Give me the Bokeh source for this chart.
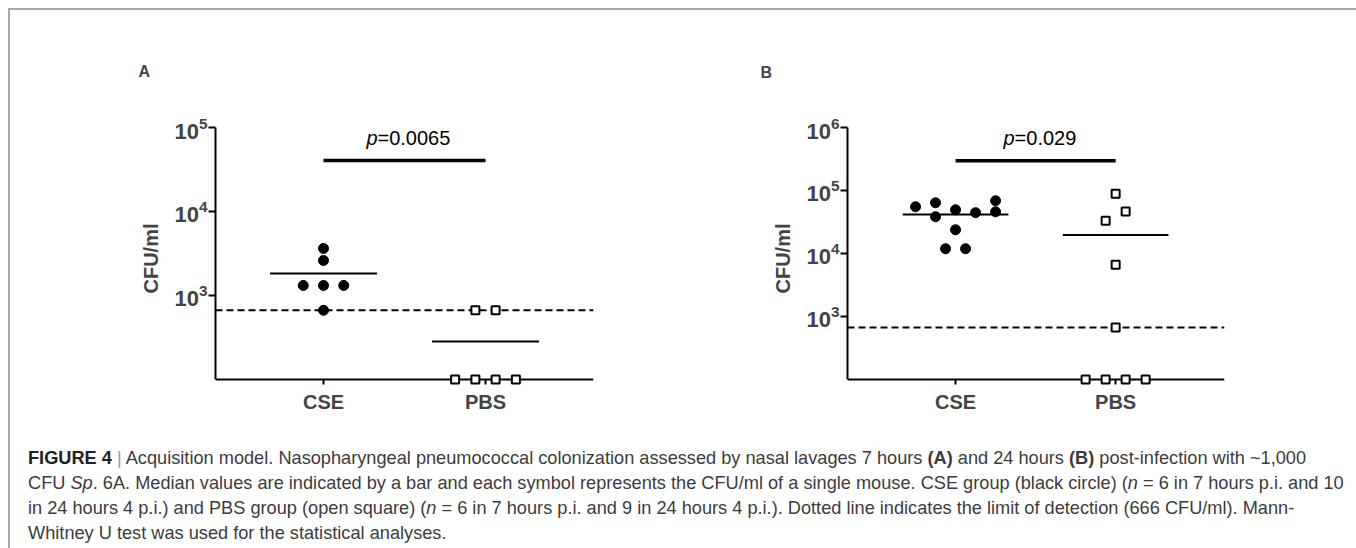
from bokeh.plotting import figure
from bokeh.models import FixedTicker, Span, Div, LinearAxis
from bokeh.layouts import column, row
from bokeh.embed import file_html
from bokeh.resources import INLINE
from bokeh.core.properties import value

categories = ["CSE", "PBS"]
cat_pos = [1, 2]
lod = 666

# Panel A (7 hours p.i.)
a_cse_vals = [3630, 2610, 1315, 1315, 1315, 666]
a_cse_jit = [0.0, 0.0, -0.125, 0.0, 0.125, 0.0]
a_pbs_vals = [666, 666, 100, 100, 100, 100]
a_pbs_jit = [-0.0625, 0.0625, -0.1875, -0.0625, 0.0625, 0.1875]
a_means = [1830, 283]
a_sig_y = 40400
a_p_value = "=0.0065"
a_ticks = [1e3, 1e4, 1e5]

# Panel B (24 hours p.i.)
b_cse_vals = [55200, 63800, 38300, 49400, 23800, 44400, 68700, 45900, 11900, 11900]
b_cse_jit = [-0.25, -0.125, -0.125, 0.0, 0.0, 0.125, 0.25, 0.25, -0.0625, 0.0625]
b_pbs_vals = [88700, 46600, 33100, 6640, 666, 100, 100, 100, 100]
b_pbs_jit = [0.0, 0.0625, -0.0625, 0.0, 0.0, -0.1875, -0.0625, 0.0625, 0.1875]
b_means = [41700, 19600]
b_sig_y = 296000
b_p_value = "=0.029"
b_ticks = [1e3, 1e4, 1e5, 1e6]

FONT = "Liberation Sans"


def make_panel(label, cse_vals, cse_jit, pbs_vals, pbs_jit, means, sig_y, p_value,
               ticks, y_lo, y_hi, x_range, width, mb_left, mb_right, p_off, title_off,
               title_standoff):
    p = figure(width=width, height=419, x_range=x_range, y_range=(y_lo, y_hi),
               y_axis_type="log", output_backend="svg", toolbar_location=None,
               min_border_left=mb_left, min_border_right=mb_right,
               min_border_top=117, min_border_bottom=40, title=label)
    p.outline_line_color = None
    p.grid.visible = False
    p.background_fill_color = "white"
    p.border_fill_color = "white"

    p.title.text_font = FONT
    p.title.text_font_size = "16px"
    p.title.text_font_style = "bold"
    p.title.align = "left"
    p.title.offset = title_off
    p.title.standoff = title_standoff

    ya = p.yaxis[0]
    ya.ticker = FixedTicker(ticks=ticks, minor_ticks=[])
    ya.bounds = (100, y_hi)
    ya.axis_line_width = 2
    ya.major_tick_line_width = 2
    ya.major_tick_out = 7
    ya.major_tick_in = 0
    ya.minor_tick_line_color = None
    ya.major_label_text_font = FONT
    ya.major_label_text_font_size = "22px"
    ya.major_label_text_font_style = "bold"
    ya.major_label_standoff = 1
    ya.axis_label = "CFU/ml"
    ya.axis_label_text_font = FONT
    ya.axis_label_text_font_size = "20px"
    ya.axis_label_text_font_style = "bold"
    ya.axis_label_standoff = 9

    # category labels (axis nearest to the frame, no line / ticks)
    xa = p.xaxis[0]
    xa.ticker = FixedTicker(ticks=cat_pos, minor_ticks=[])
    xa.major_label_overrides = {c: n for c, n in zip(cat_pos, categories)}
    xa.axis_line_color = None
    xa.major_tick_line_color = None
    xa.minor_tick_line_color = None
    xa.major_tick_out = 0
    xa.major_tick_in = 0
    xa.major_label_text_font = FONT
    xa.major_label_text_font_size = "20px"
    xa.major_label_text_font_style = "bold"
    xa.major_label_standoff = 1

    # x axis line and ticks at the 10^2 level (bottom of the data)
    xl = LinearAxis(ticker=FixedTicker(ticks=cat_pos, minor_ticks=[]),
                    fixed_location=100, axis_line_width=2, axis_line_color="black",
                    major_tick_line_width=2, major_tick_out=5, major_tick_in=0,
                    minor_tick_line_color=None, major_label_text_font_size="0px",
                    major_label_text_color=None, major_label_standoff=0)
    p.add_layout(xl, "below")

    p.add_layout(Span(location=lod, dimension="width", line_color="black",
                      line_width=2, line_dash="7 4", level="underlay"))

    # mean bars
    p.segment(x0=[c - 0.33 for c in cat_pos], x1=[c + 0.33 for c in cat_pos],
              y0=means, y1=means, line_color="black", line_width=2)
    # significance bar
    p.segment(x0=[cat_pos[0]], x1=[cat_pos[1]], y0=[sig_y], y1=[sig_y],
              line_color="black", line_width=3.5)
    xm = (cat_pos[0] + cat_pos[1]) / 2
    p.text(x=[xm], y=[sig_y], text=["p"], text_align="right", text_baseline="middle",
           x_offset=p_off, y_offset=-23, text_font=value(FONT),
           text_font_size="20px", text_font_style="italic", text_color="black")
    p.text(x=[xm], y=[sig_y], text=[p_value], text_align="left", text_baseline="middle",
           x_offset=p_off, y_offset=-23, text_font=value(FONT),
           text_font_size="20px", text_color="black")

    p.scatter(x=[cat_pos[0] + j for j in cse_jit], y=cse_vals, marker="circle",
              size=10, fill_color="black", line_color="black", line_width=1)
    sq = p.scatter(x=[cat_pos[1] + j for j in pbs_jit], y=pbs_vals, marker="square",
                   size=8, fill_color="white", line_color="black", line_width=2)
    sq.level = "annotation"
    return p


pA = make_panel("A", a_cse_vals, a_cse_jit, a_pbs_vals, a_pbs_jit, a_means, a_sig_y,
                a_p_value, a_ticks, 10 ** 1.88, 1e5, (1 / 3, 8 / 3), 660, 205, 77, -27, -77, 96)
pB = make_panel("B", b_cse_vals, b_cse_jit, b_pbs_vals, b_pbs_jit, b_means, b_sig_y,
                b_p_value, b_ticks, 10 ** 1.841, 1e6, (0.325, 2.68), 680, 177, 126, -21, -87, 93)

caption_html = (
    '<div style="box-sizing: border-box; width: 1340px; '
    'font-family: \'Liberation Sans\', Arial, sans-serif; font-size: 18.2px; '
    'line-height: 25px; color: #3c3c3c; white-space: nowrap; padding: 12px 0 0 13px;">'
    '<b style="color:#222">FIGURE 4</b> <span style="color:#999">|</span> Acquisition model. '
    'Nasopharyngeal pneumococcal colonization assessed by nasal lavages 7 hours '
    '<b>(A)</b> and 24 hours <b>(B)</b> post-infection with ~1,000<br>'
    'CFU <i>Sp</i>. 6A. Median values are indicated by a bar and each symbol represents '
    'the CFU/ml of a single mouse. CSE group (black circle) (<i>n</i> = 6 in 7 hours p.i. and 10<br>'
    'in 24 hours 4 p.i.) and PBS group (open square) (<i>n</i> = 6 in 7 hours p.i. and 9 in '
    '24 hours 4 p.i.). Dotted line indicates the limit of detection (666 CFU/ml). Mann-<br>'
    'Whitney U test was used for the statistical analyses.'
    '</div>'
)
cap = Div(text=caption_html, width=1340, height=115)

layout = column(row(pA, pB), cap,
                styles={"margin": "8px 0 0 8px",
                        "border-top": "2px solid #a8a8a8", "border-left": "2px solid #a8a8a8",
                        "border-right": "2px solid #a8a8a8"})

open("out.html", "w").write(file_html(layout, INLINE))
